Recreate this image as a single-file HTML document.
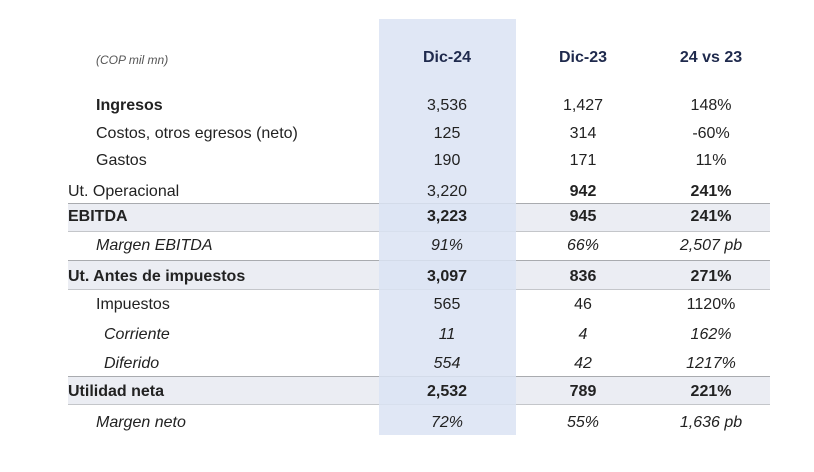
<!DOCTYPE html>
<html><head><meta charset="utf-8"><style>
body{margin:0;width:814px;height:472px;background:#fff;position:relative;overflow:hidden;font-family:"Liberation Sans",sans-serif;color:#222}
.band{position:absolute;left:68px;width:702px;background:#ebedf3;border-top:1.5px solid #a9abaf;border-bottom:1.5px solid #c4c6ca}
.col{position:absolute;left:379px;top:19px;width:137px;height:416px;background:#dae3f3}
.t{position:absolute;font-size:16px;white-space:nowrap;transform:translateY(-50%)}
.c{transform:translate(-50%,-50%)}
.b{font-weight:bold}.i{font-style:italic}
.h{color:#1f2a4d;font-weight:bold;font-size:16px}
</style></head><body>
<div class="band" style="top:203px;height:27px"></div>
<div class="band" style="top:260px;height:28px"></div>
<div class="band" style="top:376px;height:27px"></div>
<div class="col" style="opacity:.85"></div>
<div id="tbl"></div>
<script>
const labels=["Ingresos","Costos, otros egresos (neto)","Gastos","Ut. Operacional","EBITDA","Margen EBITDA","Ut. Antes de impuestos","Impuestos","Corriente","Diferido","Utilidad neta","Margen neto"];
const dic24=["3,536","125","190","3,220","3,223","91%","3,097","565","11","554","2,532","72%"];
const dic23=["1,427","314","171","942","945","66%","836","46","4","42","789","55%"];
const vs=["148%","-60%","11%","241%","241%","2,507 pb","271%","1120%","162%","1217%","221%","1,636 pb"];
const rowY=[106,134,161,192,217,246,277,305,335,364,392,423];
const labX=[96,96,96,68,68,96,68,96,104,104,68,96];
const labStyle=["b","","","","b","i","b","","i","i","b","i"];
const numBold=[false,false,false,false,true,false,true,false,false,false,true,false];
const numBold23=[false,false,false,true,true,false,true,false,false,false,true,false];
const italicRow=[false,false,false,false,false,true,false,false,true,true,false,true];
const tbl=document.getElementById('tbl');
function add(txt,x,y,cls,name){const d=document.createElement('div');d.className='t '+cls;d.textContent=txt;d.style.left=x+'px';d.style.top=y+'px';


tbl.appendChild(d);}
add("(COP mil mn)",96,60,"i","units-label");document.querySelector('.t').style.fontSize='12px';document.querySelector('.t').style.color='#555';
add("Dic-24",447,58,"c h","header-dic24");
add("Dic-23",583,58,"c h","header-dic23");
add("24 vs 23",711,58,"c h","header-change");
labels.forEach((l,i)=>{const y=rowY[i];
add(l,labX[i],y,labStyle[i],"row-label");
add(dic24[i],447,y,"c "+(numBold[i]?"b ":"")+(italicRow[i]?"i":""),"value-dic24");
add(dic23[i],583,y,"c "+(numBold23[i]?"b ":"")+(italicRow[i]?"i":""),"value-dic23");
add(vs[i],711,y,"c "+(numBold23[i]?"b ":"")+(italicRow[i]?"i":""),"value-change");});
</script>
</body></html>
